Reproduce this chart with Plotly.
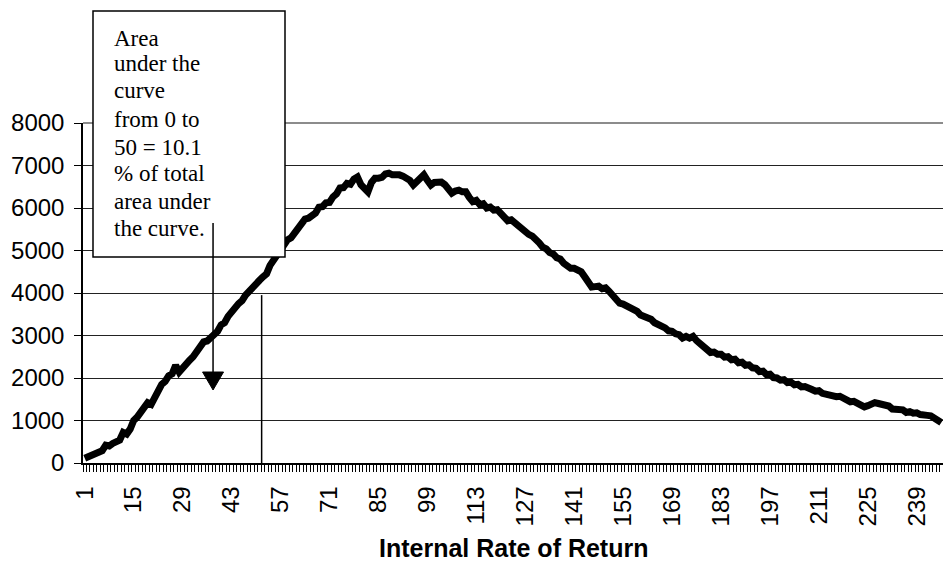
import plotly.graph_objects as go

# ---------------- data ----------------
categories = list(range(1, 247))

values = [
    110, 150, 180, 230, 260, 290, 420, 400, 460, 500,
    540, 720, 680, 800, 1000, 1080, 1180, 1300, 1420, 1380,
    1550, 1700, 1850, 1920, 2050, 2100, 2300, 2140, 2250, 2350,
    2420, 2500, 2600, 2750, 2850, 2870, 2950, 3000, 3100, 3250,
    3300, 3450, 3580, 3650, 3750, 3820, 3950, 4050, 4100, 4200,
    4300, 4380, 4450, 4650, 4780, 4850, 5000, 5150, 5250, 5300,
    5400, 5520, 5580, 5740, 5760, 5820, 5880, 6020, 6030, 6120,
    6130, 6260, 6330, 6470, 6480, 6580, 6560, 6680, 6730, 6550,
    6450, 6380, 6600, 6700, 6700, 6720, 6800, 6820, 6780, 6800,
    6780, 6750, 6720, 6650, 6540, 6620, 6700, 6780, 6650, 6540,
    6600, 6620, 6610, 6550, 6450, 6350, 6400, 6420, 6380, 6380,
    6250, 6150, 6180, 6080, 6100, 6000, 6020, 5950, 5960, 5860,
    5820, 5700, 5720, 5650, 5600, 5480, 5440, 5380, 5340, 5230,
    5180, 5080, 5040, 4950, 4920, 4830, 4800, 4700, 4640, 4580,
    4580, 4540, 4500, 4380, 4280, 4140, 4150, 4160, 4100, 4120,
    4040, 3950, 3860, 3760, 3740, 3700, 3680, 3600, 3570, 3480,
    3460, 3400, 3380, 3300, 3270, 3200, 3180, 3110, 3100, 3040,
    3020, 2940, 2980, 2940, 2980, 2880, 2800, 2710, 2680, 2600,
    2610, 2560, 2560, 2490, 2500, 2430, 2440, 2360, 2370, 2300,
    2310, 2240, 2230, 2150, 2160, 2080, 2090, 2010, 2000, 1950,
    1960, 1890, 1900, 1840, 1850, 1790, 1800, 1740, 1730, 1690,
    1700, 1640, 1620, 1560, 1580, 1560, 1570, 1510, 1500, 1440,
    1450, 1390, 1370, 1320, 1350, 1380, 1420, 1400, 1380, 1330,
    1340, 1270, 1260, 1230, 1250, 1190, 1210, 1170, 1180, 1140,
    1150, 1120, 1110, 1040, 1010, 950,
]

tick_values = [1, 15, 29, 43, 57, 71, 85, 99, 113, 127, 141, 155, 169, 183, 197, 211, 225, 239]
tick_labels = [str(v) for v in tick_values]
y_ticks = [0, 1000, 2000, 3000, 4000, 5000, 6000, 7000, 8000]

box_lines = ["Area", "under the", "curve", "from 0 to", "50 = 10.1",
             "% of total", "area under", "the curve."]
x_title = "Internal Rate of Return"

# ---------------- layout geometry (pixels) ----------------
W, H = 943, 561
L, R, T, B = 83, 943, 123, 463


def px_x(px):
    return (px - L) / (R - L)


def px_y(py):
    return (B - py) / (B - T)


fig = go.Figure()
fig.add_trace(go.Scatter(
    x=categories, y=values, mode="lines",
    line=dict(color="black", width=7),
    hoverinfo="skip", showlegend=False,
))

shapes = []
# top border of plot area (gray)
shapes.append(dict(type="line", xref="paper", yref="paper", x0=0, x1=1, y0=1, y1=1,
                   line=dict(color="#8c8c8c", width=2), layer="above"))
# vertical marker line at 50
shapes.append(dict(type="line", xref="x", yref="y", x0=51.6, x1=51.6, y0=0, y1=3950,
                   line=dict(color="black", width=1.5), layer="above"))
# text box
shapes.append(dict(type="rect", xref="paper", yref="paper",
                   x0=px_x(93), x1=px_x(285), y0=px_y(257), y1=px_y(11),
                   line=dict(color="black", width=1.5), fillcolor="white", layer="above"))
# arrow shaft
shapes.append(dict(type="line", xref="x", yref="y", x0=37.7, x1=37.7, y0=2141, y1=5647,
                   line=dict(color="black", width=1.5), layer="above"))
# arrow head
shapes.append(dict(type="path", xref="x", yref="y",
                   path="M 34.7 2141 L 40.7 2141 L 37.7 1718 Z",
                   fillcolor="black", line=dict(color="black", width=1), layer="above"))

annotations = []
centers = [38, 64, 91, 119, 147, 173, 201, 228]
for txt, cy in zip(box_lines, centers):
    annotations.append(dict(text=txt, xref="paper", yref="paper", x=px_x(112), y=px_y(cy),
                            xanchor="left", yanchor="middle", showarrow=False,
                            font=dict(family="Liberation Serif, Times New Roman, serif",
                                      size=23, color="black")))
annotations.append(dict(text="<b>" + x_title + "</b>", xref="paper", yref="paper",
                        x=0.5, y=px_y(548), xanchor="center", yanchor="middle",
                        showarrow=False,
                        font=dict(family="Liberation Sans, Arial, sans-serif", size=25,
                                  color="black")))

fig.update_layout(
    width=W, height=H,
    margin=dict(l=L, r=W - R, t=T, b=H - B, pad=0),
    paper_bgcolor="white", plot_bgcolor="white",
    shapes=shapes, annotations=annotations,
    showlegend=False,
    font=dict(family="Liberation Sans, Arial, sans-serif", size=24, color="black"),
)

fig.update_xaxes(
    range=[0.5, 246.5], tickmode="array", tickvals=tick_values, ticktext=tick_labels,
    tickangle=-90, ticks="", showgrid=False, zeroline=False,
    showline=True, linecolor="black", linewidth=1.5,
    tickfont=dict(size=24), ticklabelstandoff=12,
    minor=dict(tickmode="linear", tick0=0.5, dtick=1, ticks="outside", ticklen=7,
               tickcolor="black", tickwidth=1, showgrid=False),
)
fig.update_yaxes(
    range=[0, 8000], tickmode="array", tickvals=y_ticks,
    ticks="outside", ticklen=7, tickcolor="black", tickwidth=1,
    showgrid=True, gridcolor="#222222", gridwidth=1, zeroline=False,
    showline=True, linecolor="black", linewidth=1.5,
    tickfont=dict(size=24), ticklabelstandoff=5,
)

fig.write_html(
    "out.html",
    config={"displayModeBar": False},
    post_script="document.body.style.margin='0';document.body.style.overflow='hidden';",
)
